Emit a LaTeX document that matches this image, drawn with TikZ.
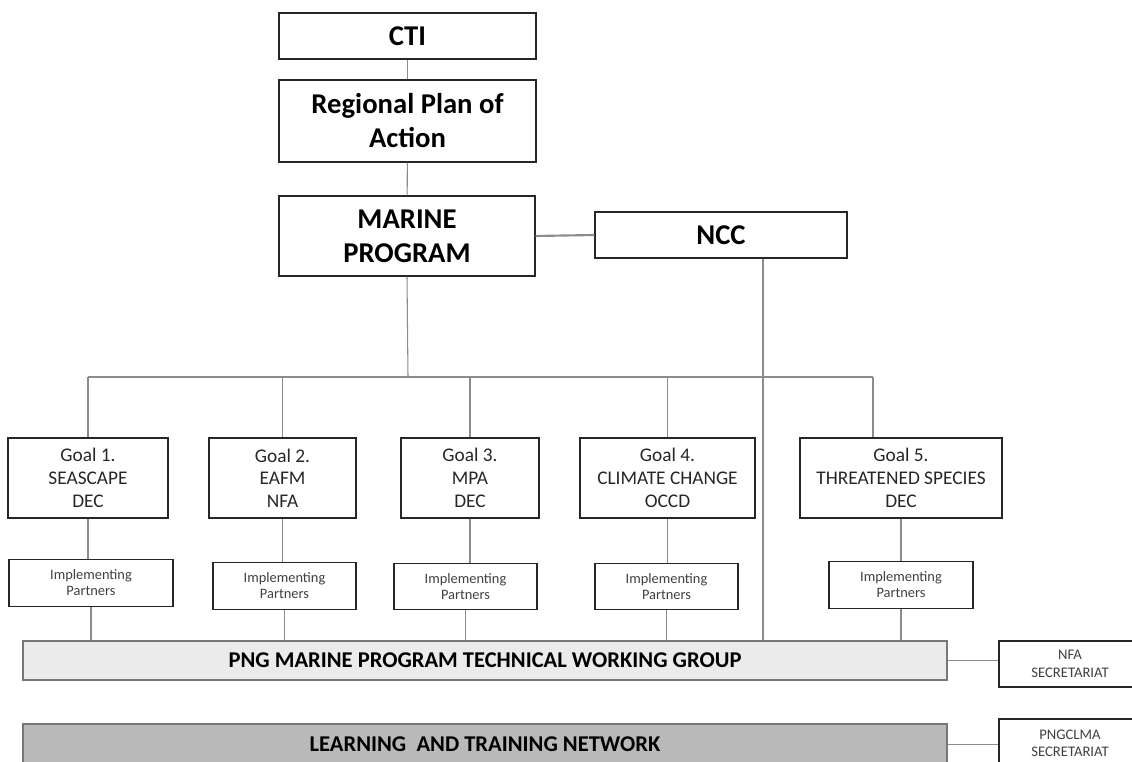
\documentclass[tikz,border=0pt]{standalone}
\usepackage{fontspec}
\setmainfont{Carlito}
\definecolor{ink}{HTML}{262626}
\definecolor{wire}{HTML}{8C8C8C}
\definecolor{softtxt}{HTML}{404040}
\definecolor{twgfill}{HTML}{EBEBEB}
\definecolor{ltnfill}{HTML}{B9B9B9}
\tikzset{
  headbox/.style={draw=ink,line width=1pt,align=center,inner sep=0pt,
    font=\fontsize{21.5}{25.5}\selectfont\bfseries},
  goalbox/.style={draw=ink,line width=1pt,align=center,inner sep=0pt,
    minimum height=60pt,text=ink,font=\fontsize{14.5}{17}\selectfont},
  partbox/.style={draw=ink,line width=.9pt,align=center,inner sep=0pt,
    minimum height=35pt,text=softtxt,font=\fontsize{10.8}{12}\selectfont},
  barbox/.style={draw=wire!85!black,line width=1pt,inner sep=0pt,
    minimum width=693pt,font=\fontsize{16.9}{19}\selectfont\bfseries},
  secbox/.style={draw=ink,line width=.9pt,align=center,inner sep=0pt,
    minimum width=106.5pt,text=softtxt,font=\fontsize{11}{13}\selectfont},
  link/.style={wire,line width=.8pt},
  thicklink/.style={wire,line width=1.6pt}
}

\begin{document}
\begin{tikzpicture}[x=.75pt,y=-.75pt]
  \clip (0,0) rectangle (1132,762);
  % top of the chart
  \node[headbox,minimum width=192.75pt,minimum height=34.5pt] (cti) at (407.5,36) {CTI};
  \node[headbox,minimum width=192.75pt,minimum height=61.5pt] (rpoa) at (407.5,121) {Regional Plan of\\Action};
  \node[headbox,minimum width=192pt,minimum height=60pt] (marine) at (407,236) {MARINE\\PROGRAM};
  \node[headbox,minimum width=189pt,minimum height=34.5pt] (ncc) at (721,235) {NCC};
  \draw[link] (cti) -- (rpoa);
  \draw[link] (rpoa) -- (marine);
  \draw[thicklink] (marine.east) -- (ncc.west);

  % goals and partners
  \foreach \g/\gx/\gw/\gtxt in {
      1/88/160/{Goal 1.\\SEASCAPE\\DEC},
      2/282.5/147/{Goal 2.\\EAFM\\NFA},
      3/470/138/{Goal 3.\\MPA\\DEC},
      4/667.5/175/{Goal 4.\\CLIMATE CHANGE\\OCCD},
      5/901/202/{Goal 5.\\THREATENED SPECIES\\DEC}}
    \node[goalbox,minimum width=\gw*.75pt] (goal\g) at (\gx,478) {\gtxt};
  \foreach \g/\px/\py/\pw in {1/91/583/164,2/284.5/586/143,3/465.5/586.5/143,
      4/666.5/586.5/143,5/901/585/144}
    \node[partbox,minimum width=\pw*.75pt] (part\g) at (\px,\py) {Implementing\\Partners};

  % bars and secretariats
  \node[barbox,fill=twgfill,minimum height=29.25pt] (twg) at (485,660.5) {PNG MARINE PROGRAM TECHNICAL WORKING GROUP};
  \node[barbox,fill=ltnfill,minimum height=30.75pt] (ltn) at (485,744.5) {LEARNING\ \ AND TRAINING NETWORK};
  \node[secbox,minimum height=34.5pt] (nfa) at (1070,664) {NFA\\SECRETARIAT};
  \node[secbox,minimum height=36pt] (clma) at (1070,743) {PNGCLMA\\SECRETARIAT};

  % connectors
  \coordinate (trunk) at (408,377);
  \coordinate (busend) at (873,377);
  \draw[link] (marine.south) -- (trunk);
  \draw[link] (goal1.north |- trunk) -- (busend);
  \foreach \g in {1,...,4}
    \draw[link] (goal\g.north |- trunk) -- (goal\g.north);
  \draw[link] (busend) -- (busend |- goal5.north);
  \foreach \g in {1,...,5} {
    \draw[link] (goal\g.south) -- (goal\g.south |- part\g.north);
    \draw[link] (part\g.south) -- (part\g.south |- twg.north);
  }
  \coordinate (nccfoot) at ([xshift=31.5pt]ncc.south);
  \draw[thicklink] (nccfoot) -- (nccfoot |- twg.north);
  \draw[link] (twg.east) -- (twg.east -| nfa.west);
  \draw[link] (ltn.east) -- (ltn.east -| clma.west);
\end{tikzpicture}
\end{document}
